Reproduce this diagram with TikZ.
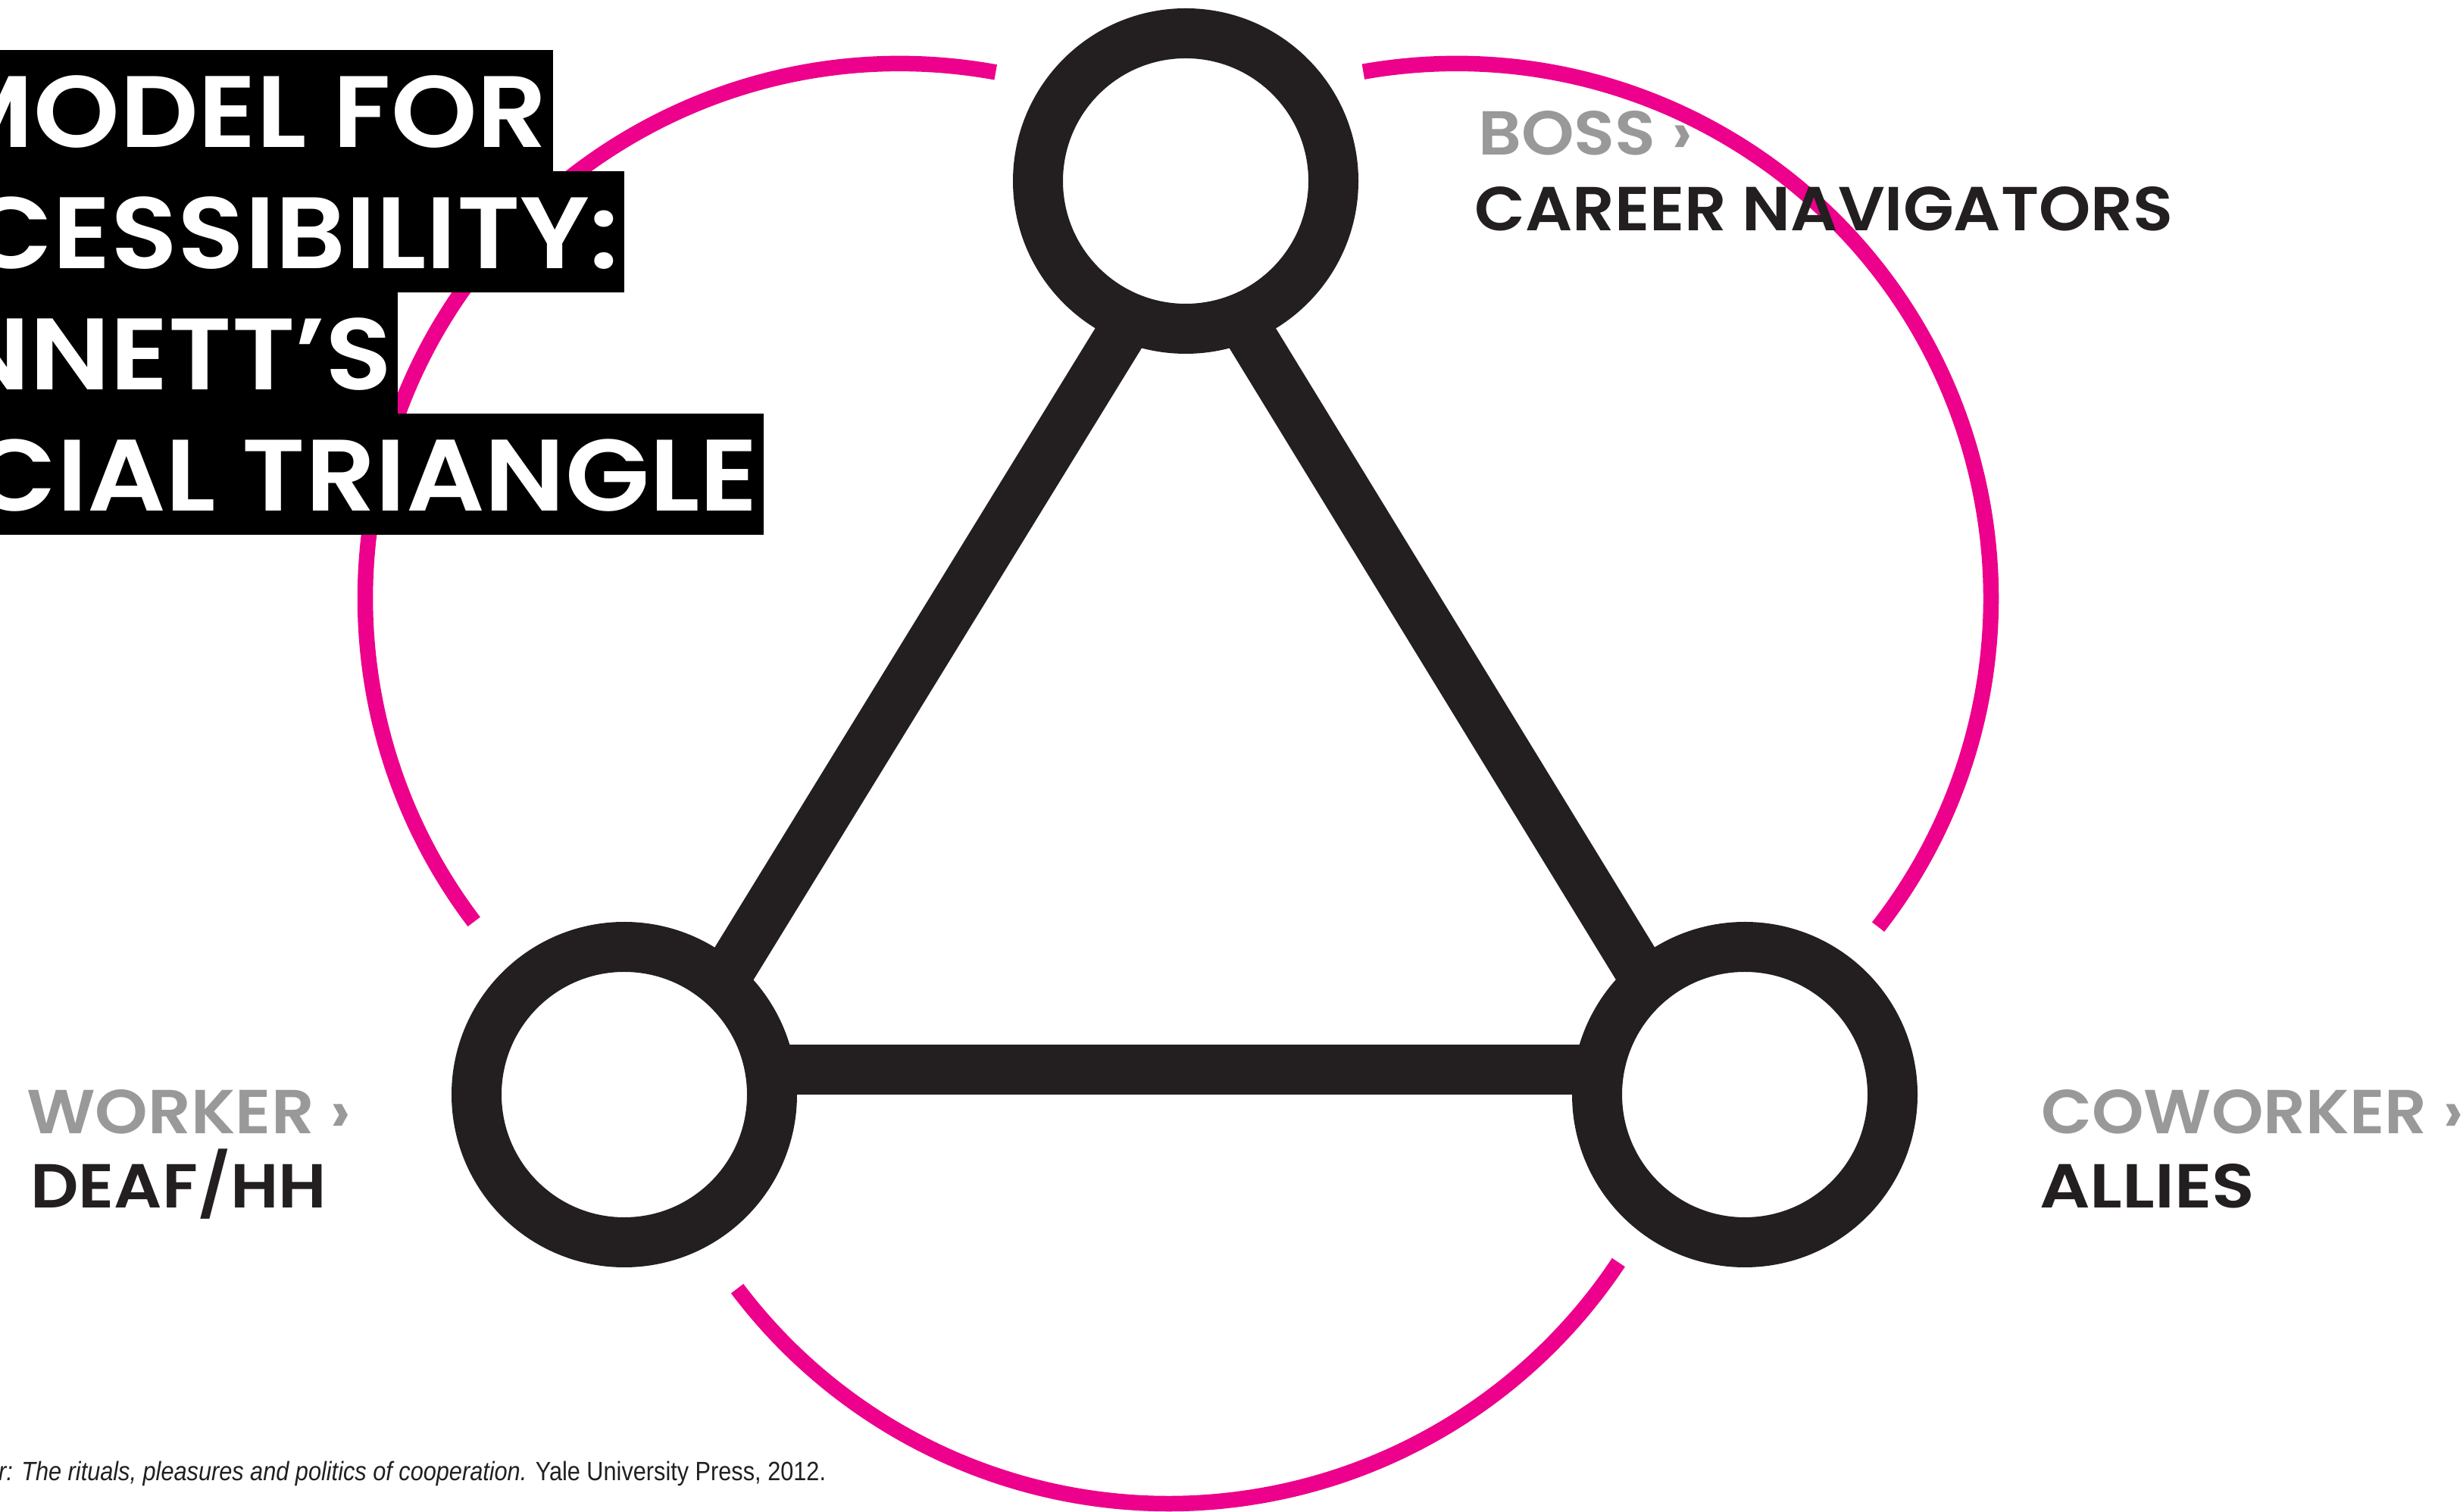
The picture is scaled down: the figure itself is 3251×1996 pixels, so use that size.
\documentclass[tikz,border=0pt]{standalone}
\usepackage{fontspec}
\setmainfont{Liberation Sans}
\newfontfamily\gotham{Poppins SemiBold}[FakeStretch=1.08]
\newfontfamily\citefont{Liberation Sans}[FakeStretch=0.877]
\usetikzlibrary{backgrounds}
\definecolor{ink}{HTML}{231F20}
\definecolor{mag}{HTML}{EC008C}
\definecolor{greyl}{HTML}{999999}
\begin{document}
\begin{tikzpicture}[x=1pt,y=1pt,
  ring/.style={circle, draw=ink, line width=66pt, fill=white, minimum size=390pt, inner sep=0pt, outer sep=0pt},
  edge/.style={draw=ink, line width=66pt},
  arcline/.style={draw=mag, line width=20.5pt},
  titlebox/.style={fill=black, text=white, font=\gotham\fontsize{134}{134}\selectfont, inner xsep=7pt, inner ysep=0pt, text height=129pt, text depth=31pt, anchor=base east},
  role/.style={text=greyl, font=\gotham\fontsize{82}{82}\selectfont, inner sep=0pt, anchor=base west},
  group/.style={text=ink, font=\gotham\fontsize{82}{82}\selectfont, inner sep=0pt, anchor=base west},
  cite/.style={text=ink, font=\citefont\fontsize{35}{35}\selectfont, inner sep=0pt, anchor=base west}]
\clip (0,0) rectangle (3251,1996);
% magenta arcs
\draw[arcline] ([shift={(79.7:706pt)}]1188,1206) arc[start angle=79.7, end angle=217.2, radius=706pt];
\draw[arcline] ([shift={(100:706pt)}]1922,1206) arc[start angle=100, end angle=-37.9, radius=706pt];
\draw[arcline] ([shift={(217:713pt)}]1542.5,724) arc[start angle=217, end angle=326.4, radius=713pt];
% rings
\node[ring] (boss) at (1565,1757) {};
\node[ring] (worker) at (824,551) {};
\node[ring] (coworker) at (2303,551) {};
% connectors
\begin{scope}[on background layer]
\fill[white] (0,0) rectangle (3251,1996);
\draw[edge] ([shift={(28.1,-17.3)}]worker.center) -- ([shift={(28.1,-17.3)}]boss.center);
\draw[edge] ([shift={(-28.1,-17.2)}]boss.center) -- ([shift={(-28.1,-17.2)}]coworker.center);
\draw[edge] ([shift={(0,33)}]worker.center) -- ([shift={(0,33)}]coworker.center);
\end{scope}
% title
\node[titlebox] (t1) at (730,1801) {MODEL FOR};
\node[titlebox] (t2) at (824,1641) {CESSIBILITY:};
\node[titlebox] (t3) at (525,1481) {NNETT’S};
\node[titlebox] (t4) at (1008,1321) {CIAL TRIANGLE};
% labels
\node[role] (bossrole) at (1951,1791) {BOSS ›};
\node[group] (bossgroup) at (1946,1691) {\scalebox{0.982}[1]{CAREER NAVIGATORS}};
\node[role] (workerrole) at (35,499) {WORKER ›};
\node[group] (workergroup) at (40,401) {DEAF/HH};
\node[role] (coworkerrole) at (2694,499) {\scalebox{0.985}[1]{COWORKER ›}};
\node[group] (coworkergroup) at (2692,401) {\scalebox{1.05}[1]{ALLIES}};
% citation
\node[cite] (cite) at (-2,41) {\itshape r: The rituals, pleasures and politics of cooperation.\upshape{} Yale University Press, 2012.};
\end{tikzpicture}
\end{document}
